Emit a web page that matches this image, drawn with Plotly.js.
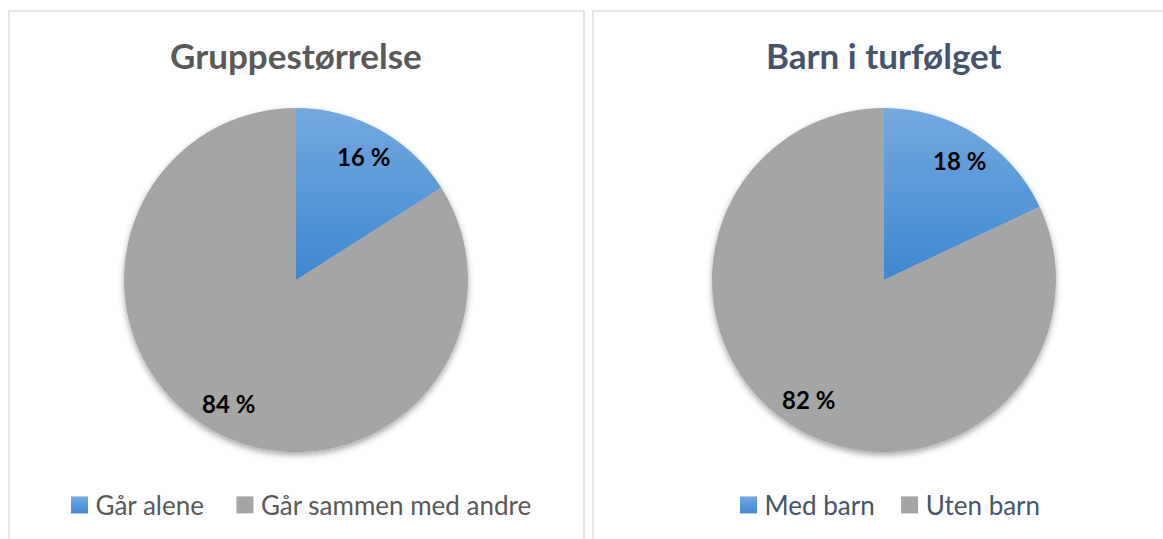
<!DOCTYPE html>
<html>
<head>
<meta charset="utf-8">
<script src="https://cdn.plot.ly/plotly-3.0.1.min.js"></script>
<style>
html,body{margin:0;padding:0;background:#fff;}
#chart{width:1163px;height:539px;}
</style>
</head>
<body>
<div id="chart"></div>
<script>
// ---- data ----
const leftTitle = 'Gruppestørrelse';
const leftLabels = ['Går alene', 'Går sammen med andre'];
const leftValues = [16, 84];
const rightTitle = 'Barn i turfølget';
const rightLabels = ['Med barn', 'Uten barn'];
const rightValues = [18, 82];
const sliceColors = ['#5B9BD5', '#A5A5A5'];

const W = 1163, H = 539;
const FONT = 'Lato, "Open Sans", sans-serif';
const px = v => v / W;
const py = v => 1 - v / H;
const CY = 280, R = 172, LABEL_R = 0.82;

function pieTrace(labels, values, cx, legendId) {
  return {
    type: 'pie',
    labels: labels,
    values: values,
    sort: false,
    direction: 'clockwise',
    rotation: 0,
    marker: {colors: sliceColors, line: {width: 0}},
    textinfo: 'none',
    hoverinfo: 'none',
    domain: {x: [px(cx - R), px(cx + R)], y: [py(CY + R), py(CY - R)]},
    legend: legendId,
    showlegend: true
  };
}

// percentage labels placed at the middle angle of each slice
function sliceLabels(values, cx) {
  const total = values.reduce((a, b) => a + b, 0);
  let cum = 0;
  return values.map(v => {
    const mid = (cum + v / 2) / total * 2 * Math.PI;
    cum += v;
    return {
      text: '<b>' + v + ' %</b>',
      x: px(cx + Math.sin(mid) * R * LABEL_R),
      y: py(CY - Math.cos(mid) * R * LABEL_R),
      xref: 'paper', yref: 'paper', showarrow: false,
      xanchor: 'center', yanchor: 'middle',
      font: {family: FONT, size: 24, color: '#000000'}
    };
  });
}

const data = [
  pieTrace(leftLabels, leftValues, 296, 'legend'),
  pieTrace(rightLabels, rightValues, 884, 'legend2')
];

const legendBase = {
  orientation: 'h',
  xanchor: 'center',
  yanchor: 'middle',
  y: py(505),
  bgcolor: 'rgba(0,0,0,0)',
  traceorder: 'normal'
};

const layout = {
  width: W, height: H,
  margin: {l: 0, r: 0, t: 0, b: 0},
  paper_bgcolor: '#ffffff',
  showlegend: true,
  legend: Object.assign({}, legendBase, {x: px(290), font: {family: FONT, size: 26, color: '#595959'}}),
  legend2: Object.assign({}, legendBase, {x: px(882), font: {family: FONT, size: 26, color: '#44546A'}}),
  annotations: [
    {text: leftTitle, x: px(296), y: py(55), xref: 'paper', yref: 'paper', showarrow: false,
     xanchor: 'center', yanchor: 'middle', font: {family: FONT, size: 35, color: '#595959', weight: 'bold'}},
    {text: rightTitle, x: px(884), y: py(55), xref: 'paper', yref: 'paper', showarrow: false,
     xanchor: 'center', yanchor: 'middle', font: {family: FONT, size: 35, color: '#44546A', weight: 'bold'}}
  ].concat(sliceLabels(leftValues, 296), sliceLabels(rightValues, 884)),
  shapes: [
    {type: 'rect', xref: 'paper', yref: 'paper', x0: px(9), x1: px(584), y0: py(545), y1: py(11),
     line: {color: '#DADDE3', width: 1.5}, fillcolor: 'rgba(0,0,0,0)', layer: 'below'},
    {type: 'rect', xref: 'paper', yref: 'paper', x0: px(593), x1: px(1170), y0: py(545), y1: py(11),
     line: {color: '#DADDE3', width: 1.5}, fillcolor: 'rgba(0,0,0,0)', layer: 'below'}
  ]
};

Plotly.newPlot('chart', data, layout, {staticPlot: true, displayModeBar: false}).then(function (gd) {
  const svg = gd.querySelector('svg.main-svg');
  const ns = 'http://www.w3.org/2000/svg';
  let defs = svg.querySelector('defs');
  const grad = document.createElementNS(ns, 'linearGradient');
  grad.setAttribute('id', 'blueGrad');
  grad.setAttribute('x1', '0'); grad.setAttribute('y1', '0');
  grad.setAttribute('x2', '0'); grad.setAttribute('y2', '1');
  [['0', '#74A9DE'], ['1', '#3E87D3']].forEach(function (s) {
    const st = document.createElementNS(ns, 'stop');
    st.setAttribute('offset', s[0]); st.setAttribute('stop-color', s[1]);
    grad.appendChild(st);
  });
  defs.appendChild(grad);
  const filt = document.createElementNS(ns, 'filter');
  filt.setAttribute('id', 'pieShadow');
  filt.setAttribute('x', '-10%'); filt.setAttribute('y', '-10%');
  filt.setAttribute('width', '120%'); filt.setAttribute('height', '125%');
  const ds = document.createElementNS(ns, 'feDropShadow');
  ds.setAttribute('dx', '0'); ds.setAttribute('dy', '3');
  ds.setAttribute('stdDeviation', '3'); ds.setAttribute('flood-color', '#000');
  ds.setAttribute('flood-opacity', '0.35');
  filt.appendChild(ds);
  defs.appendChild(filt);

  gd.querySelectorAll('.trace').forEach(function (t) {
    if (t.querySelector('.slice')) t.setAttribute('filter', 'url(#pieShadow)');
  });
  gd.querySelectorAll('.slice path.surface').forEach(function (p) {
    if (p.style.fill && p.style.fill.indexOf('91, 155, 213') >= 0) p.style.fill = 'url(#blueGrad)';
  });
  gd.querySelectorAll('.legendpoints path').forEach(function (p) {
    p.setAttribute('d', 'M12.5,8.5H-4.5V-8.5H12.5Z');
    if (p.style.fill && p.style.fill.indexOf('91, 155, 213') >= 0) p.style.fill = 'url(#blueGrad)';
  });
  // widen gap between the two legend entries
  [['g.legend', 12], ['g.legend2', 6]].forEach(function (cfg) {
    const lg = gd.querySelector(cfg[0]);
    if (!lg) return;
    lg.querySelectorAll('[clip-path]').forEach(function (el) { el.removeAttribute('clip-path'); });
    const items = lg.querySelectorAll('.traces');
    items.forEach(function (it, i) {
      if (i === 0) return;
      const tr = it.getAttribute('transform') || '';
      const m = tr.match(/translate\(\s*([-\d.e]+)[ ,]+([-\d.e]+)\s*\)/);
      if (m) it.setAttribute('transform', 'translate(' + (parseFloat(m[1]) + cfg[1] * i) + ',' + m[2] + ')');
    });
  });
});
</script>
</body>
</html>
